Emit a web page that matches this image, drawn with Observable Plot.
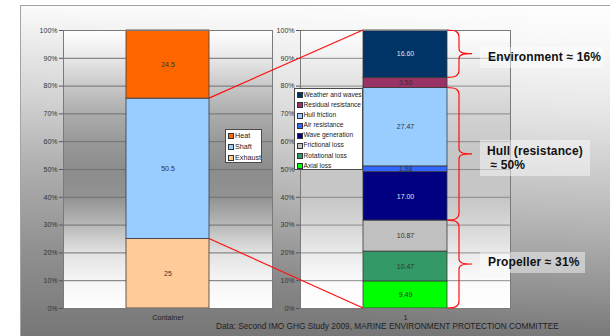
<!DOCTYPE html>
<html>
<head>
<meta charset="utf-8">
<script src="https://cdn.jsdelivr.net/npm/d3@7"></script>
<script src="https://cdn.jsdelivr.net/npm/@observablehq/plot@0.6"></script>
<style>
  html, body { margin: 0; padding: 0; background: #fff; }
  #chart { position: relative; width: 610px; height: 336px; overflow: hidden; background: #fff;
           font-family: "Liberation Sans", Arial, sans-serif; }
  #frame { position: absolute; left: 20px; top: 5px; width: 590px; height: 331px;
           border-top: 1px solid #a4a4a4; border-left: 1px solid #a4a4a4;
           background:
             radial-gradient(ellipse at 100% 0%, rgba(255,255,255,0.75) 0%, rgba(255,255,255,0) 72%),
             linear-gradient(to bottom, #fbfbfb 0%, #d2d2d2 28%, #adadad 50%, #909090 74%, #767676 100%); }
  .pl { position: absolute; top: 0; }
  .legend { position: absolute; background: #fff; border: 1px solid #4a4a4a; box-sizing: border-box; color: #222; }
  .legend .row { position: relative; white-space: nowrap; }
  .legend .sw { position: absolute; width: 4px; height: 4px; border: 0.7px solid #333; }
  .note { position: absolute; background: rgba(255,255,255,0.45); font-weight: bold; font-size: 12px;
          color: #111; letter-spacing: 0.15px; white-space: pre; box-sizing: border-box; }
  #caption { position: absolute; left: 216px; top: 321px; font-size: 8.3px; color: #222; white-space: nowrap; }
  #overlay { position: absolute; left: 0; top: 0; pointer-events: none; }
</style>
</head>
<body>
<svg width="0" height="0" style="position:absolute">
  <defs>
    <linearGradient id="gL" x1="0" y1="0" x2="0" y2="1">
      <stop offset="0" stop-color="#ffffff"/>
      <stop offset="0.1" stop-color="#e8e8e8"/>
      <stop offset="0.2" stop-color="#c8c8c8"/>
      <stop offset="0.3" stop-color="#acacac"/>
      <stop offset="0.4" stop-color="#999999"/>
      <stop offset="0.5" stop-color="#8c8c8c"/>
      <stop offset="0.6" stop-color="#929292"/>
      <stop offset="0.7" stop-color="#b8b8b8"/>
      <stop offset="0.8" stop-color="#e2e2e2"/>
      <stop offset="0.9" stop-color="#f6f6f6"/>
      <stop offset="1" stop-color="#ffffff"/>
    </linearGradient>
    <linearGradient id="gR" x1="0" y1="0" x2="0" y2="1">
      <stop offset="0" stop-color="#ffffff"/>
      <stop offset="0.1" stop-color="#f0f0f0"/>
      <stop offset="0.2" stop-color="#e0e0e0"/>
      <stop offset="0.3" stop-color="#d2d2d2"/>
      <stop offset="0.45" stop-color="#c6c6c6"/>
      <stop offset="0.6" stop-color="#c6c6c6"/>
      <stop offset="0.7" stop-color="#d6d6d6"/>
      <stop offset="0.8" stop-color="#eaeaea"/>
      <stop offset="0.9" stop-color="#fbfbfb"/>
      <stop offset="1" stop-color="#ffffff"/>
    </linearGradient>
  </defs>
</svg>
<div id="chart">
  <div id="frame"></div>
</div>
<script>
// ---------------- data ----------------
const leftCategories = ["Exhaust", "Shaft", "Heat"];
const leftValues = [25, 50.5, 24.5];
const leftX = ["Container"];
const expandedCategory = "Shaft";

const rightCategories = ["Axial loss", "Rotational loss", "Frictional loss", "Wave generation",
                         "Air resistance", "Hull friction", "Residual resistance", "Weather and waves"];
const rightValues = [9.49, 10.47, 10.87, 17.00, 1.98, 27.47, 3.56, 16.60];
const rightX = ["1"];

const yTicks = [0, 0.1, 0.2, 0.3, 0.4, 0.5, 0.6, 0.7, 0.8, 0.9, 1];

const groupLabels = ["Environment ≈ 16%", "Hull (resistance)\n ≈ 50%", "Propeller ≈ 31%"];
const groupMembers = [
  ["Weather and waves"],
  ["Hull friction", "Air resistance", "Wave generation"],
  ["Axial loss", "Rotational loss", "Frictional loss"]
];
const caption = "Data: Second IMO GHG Study 2009, MARINE ENVIRONMENT PROTECTION COMMITTEE";

// ---------------- styles ----------------
const leftColors = ["#ffcc99", "#99ccff", "#ff6600"];
const rightColors = ["#00ff00", "#339966", "#c0c0c0", "#000080", "#3366ff", "#99ccff", "#993366", "#003366"];
const noteBoxes = [
  {left: 480, top: 47, width: 123, height: 21, padL: 8, padT: 4},
  {left: 480, top: 140, width: 110, height: 36, padL: 7, padT: 4},
  {left: 480, top: 252, width: 105, height: 21, padL: 8, padT: 4}
];
const FONT = '"Liberation Sans", Arial, sans-serif';

// ---------------- build ----------------
const leftData = leftCategories.map((c, i) => ({cat: c, v: leftValues[i], x: leftX[0]}));
const rightData = rightCategories.map((c, i) => ({cat: c, v: rightValues[i], x: rightX[0]}));

function makePlot(data, xDom, colorDom, colorRange, gradId, gridColor, fmt, width, ml, mr) {
  const dark = new Set(colorDom.filter((c, i) => d3.hsl(colorRange[i]).l < 0.3));
  const stack = (o) => Plot.stackY({offset: "normalize", x: "x", y: "v", ...o});
  return Plot.plot({
    width, height: 336, marginLeft: ml, marginRight: mr, marginTop: 30, marginBottom: 28,
    style: {background: "transparent", fontFamily: FONT, fontSize: "7px", color: "#333"},
    x: {domain: xDom, paddingInner: 0, paddingOuter: 0.75, label: null},
    y: {domain: [0, 1], label: null},
    color: {domain: colorDom, range: colorRange},
    marks: [
      Plot.frame({fill: `url(#${gradId})`}),
      Plot.gridY(yTicks, {stroke: gridColor, strokeOpacity: 1, strokeWidth: 1}),
      Plot.barY(data, stack({fill: "cat", stroke: "#3a3a3a", strokeWidth: 0.8})),
      Plot.text(data, stack({text: d => dark.has(d.cat) ? null : fmt(d.v), fill: "#333", fontSize: 7})),
      Plot.text(data, stack({text: d => dark.has(d.cat) ? fmt(d.v) : null, fill: "#e4e4e4", fontSize: 7})),
      Plot.frame({stroke: "#7a7a7a", strokeWidth: 1}),
      Plot.axisY(yTicks, {tickFormat: d3.format(".0%"), tickSize: 4, tickPadding: 2, label: null,
                          stroke: "#555", fill: "#333", fontSize: 7}),
      Plot.axisX({tickSize: 0, tickPadding: 6, label: null, fill: "#222", fontSize: 7.3})
    ]
  });
}

const chart = document.getElementById("chart");

const leftPlot = makePlot(leftData, leftX, leftCategories, leftColors, "gL", "#707070",
                          v => String(v), 280, 63, 8);
leftPlot.classList.add("pl");
leftPlot.style.left = "0px";
chart.appendChild(leftPlot);

const RIGHT_LEFT = 272;
const rightPlot = makePlot(rightData, rightX, rightCategories, rightColors, "gR", "#8a8a8a",
                           d3.format(".2f"), 338, 28, 100);
rightPlot.classList.add("pl");
rightPlot.style.left = RIGHT_LEFT + "px";
chart.appendChild(rightPlot);

// legends
function makeLegend(cats, colors, box, rowH, fontSize, swX, txtX, padT) {
  const lg = d3.select(chart).append("div").attr("class", "legend")
    .style("left", box[0] + "px").style("top", box[1] + "px")
    .style("width", box[2] + "px").style("height", box[3] + "px")
    .style("font-size", fontSize + "px").style("padding-top", padT + "px");
  const items = cats.map((c, i) => ({c, col: colors[i]})).reverse();
  const row = lg.selectAll(".row").data(items).join("div").attr("class", "row")
    .style("height", rowH + "px").style("line-height", rowH + "px");
  row.append("div").attr("class", "sw")
    .style("left", swX + "px").style("top", (rowH / 2 - 2.7) + "px")
    .style("background", d => d.col);
  row.append("span").style("position", "absolute").style("left", txtX + "px").text(d => d.c);
}
makeLegend(leftCategories, leftColors, [225, 129, 37, 34], 11, 7.2, 2, 9, 0);
makeLegend(rightCategories, rightColors, [294, 88, 69, 82], 10.1, 6.6, 1.5, 8.5, 1);

// overlay: connectors and braces via plot scales
function sc(plot, name) {
  const s = plot.scale(name);
  if (s.apply) return {f: v => s.apply(v), bw: s.bandwidth || 0};
  if (s.type === "band") {
    const b = d3.scaleBand(s.domain, s.range).paddingInner(s.paddingInner || 0).paddingOuter(s.paddingOuter || 0);
    return {f: b, bw: b.bandwidth()};
  }
  return {f: d3.scaleLinear(s.domain, s.range), bw: 0};
}
const lx = sc(leftPlot, "x"), ly = sc(leftPlot, "y");
const rx = sc(rightPlot, "x"), ry = sc(rightPlot, "y");

function bounds(cats, vals) {
  const total = d3.sum(vals);
  let acc = 0;
  const m = new Map();
  cats.forEach((c, i) => { m.set(c, [acc / total, (acc + vals[i]) / total]); acc += vals[i]; });
  return m;
}
const lb = bounds(leftCategories, leftValues);
const rb = bounds(rightCategories, rightValues);

const ov = d3.select(chart).append("svg").attr("id", "overlay").attr("width", 610).attr("height", 336);

const xLeftEdge = lx.f(leftX[0]) + lx.bw;
const xRightStart = RIGHT_LEFT + rx.f(rightX[0]);
const [eb, et] = lb.get(expandedCategory);
ov.append("line").attr("x1", xLeftEdge).attr("y1", ly.f(et)).attr("x2", xRightStart).attr("y2", ry.f(1))
  .attr("stroke", "#ff1010").attr("stroke-width", 1.2);
ov.append("line").attr("x1", xLeftEdge).attr("y1", ly.f(eb)).attr("x2", xRightStart).attr("y2", ry.f(0))
  .attr("stroke", "#ff1010").attr("stroke-width", 1.2);

const x0 = RIGHT_LEFT + rx.f(rightX[0]) + rx.bw;
groupMembers.forEach((members, gi) => {
  const lo = d3.min(members, c => rb.get(c)[0]);
  const hi = d3.max(members, c => rb.get(c)[1]);
  const yT = ry.f(hi), yB = ry.f(lo), ym = (yT + yB) / 2;
  const x1 = x0 + 12, tx = x0 + 25;
  const p = d3.path();
  p.moveTo(x0, yT);
  p.bezierCurveTo(x0 + 9, yT, x1, yT + 2, x1, yT + 7);
  p.lineTo(x1, ym - 5);
  p.bezierCurveTo(x1, ym - 1, x1 + 4, ym, tx, ym);
  p.bezierCurveTo(x1 + 4, ym, x1, ym + 1, x1, ym + 5);
  p.lineTo(x1, yB - 7);
  p.bezierCurveTo(x1, yB - 2, x0 + 9, yB, x0, yB);
  ov.append("path").attr("d", p.toString()).attr("fill", "none")
    .attr("stroke", "#ff1010").attr("stroke-width", 1.2);

  const b = noteBoxes[gi];
  d3.select(chart).append("div").attr("class", "note")
    .style("left", b.left + "px").style("top", b.top + "px")
    .style("width", b.width + "px").style("height", b.height + "px")
    .style("padding-left", b.padL + "px").style("padding-top", b.padT + "px")
    .style("line-height", gi === 1 ? "14px" : "13px")
    .text(groupLabels[gi]);
});

d3.select(chart).append("div").attr("id", "caption").text(caption);
</script>
</body>
</html>
